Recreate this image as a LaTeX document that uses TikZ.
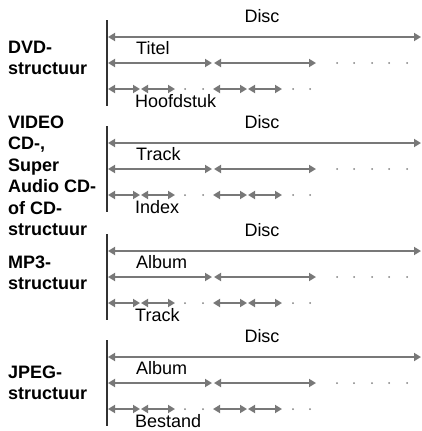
\documentclass[tikz,border=0pt]{standalone}
\usepackage{fontspec}
\setmainfont{Liberation Sans}
\usetikzlibrary{arrows.meta}

\tikzset{
  span/.style={draw={rgb,255:red,120;green,120;blue,120}, line width=2.4pt,
    {Triangle[length=7pt,width=8pt]}-{Triangle[length=7pt,width=8pt]}},
  axisline/.style={line width=1.4pt, draw={rgb,255:red,50;green,50;blue,50}},
  lbl/.style={font=\fontsize{18}{20}\selectfont, inner sep=0pt},
  kind/.style={font=\fontsize{18}{21.5}\selectfont\bfseries, align=left,
    anchor=west, inner sep=0pt},
}

\begin{document}
\begin{tikzpicture}[x=1pt, y=-1pt]
  \useasboundingbox (0,0) rectangle (422,431);

  \foreach \s/\yy/\ly/\kindtext/\midtext/\bottext in {
      1/37/21/{DVD-\\structuur}/Titel/Hoofdstuk,
      2/143/33/{VIDEO\\CD-,\\Super\\Audio CD-\\of CD-\\structuur}/Track/Index,
      3/251/22/{MP3-\\structuur}/Album/Track,
      4/357/26/{JPEG-\\structuur}/Album/Bestand} {
    \coordinate (top\s) at (107,\yy-17);
    \coordinate (bot\s) at (107,\yy+69);
    \draw [axisline] (top\s) -- (bot\s);

    \node [kind] (kind\s) at (8,\yy+\ly) {\kindtext};

    % disc
    \node [lbl] (disc\s) at (262,\yy-21) {Disc};
    \coordinate (da\s) at (108,\yy);
    \coordinate (db\s) at (421,\yy);
    \draw [span] (da\s) -- (db\s);

    % middle level
    \node [lbl, anchor=west] (mid\s) at (136,\yy+11) {\midtext};
    \coordinate (ma\s) at (108,\yy+26);
    \coordinate (mb\s) at (212,\yy+26);
    \coordinate (mc\s) at (214,\yy+26);
    \coordinate (md\s) at (316,\yy+26);
    \draw [span] (ma\s) -- (mb\s);
    \draw [span] (mc\s) -- (md\s);
    \foreach \x in {337,354,372,389,407}
      \fill [gray] (\x,\yy+26) circle [radius=1pt];

    % lowest level
    \node [lbl, anchor=west] (low\s) at (135,\yy+64) {\bottext};
    \foreach \a/\b [count=\k] in {108/140,141/175,213/247,248/282} {
      \coordinate (la\s\k) at (\a,\yy+52);
      \coordinate (lb\s\k) at (\b,\yy+52);
      \draw [span] (la\s\k) -- (lb\s\k);
    }
    \foreach \x in {185,203,293,310}
      \fill [gray] (\x,\yy+52) circle [radius=1pt];
  }
\end{tikzpicture}
\end{document}
